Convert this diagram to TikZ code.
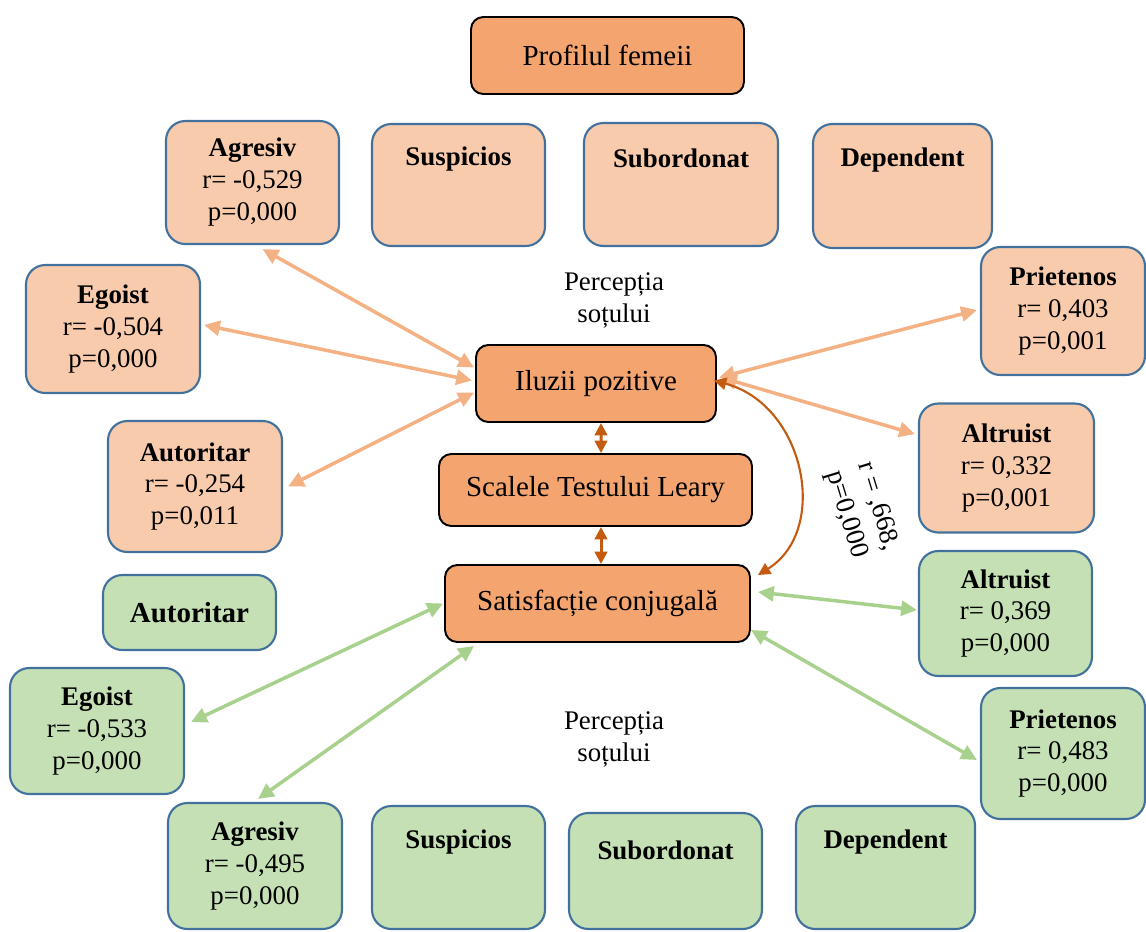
\documentclass[tikz,border=0pt]{standalone}
\usepackage{fontspec}
\setmainfont{Liberation Serif}
\usetikzlibrary{arrows.meta,calc}
\definecolor{mainor}{HTML}{F4A46F}
\definecolor{lightor}{HTML}{F8CBAD}
\definecolor{lgreen}{HTML}{C5E0B4}
\definecolor{bblue}{HTML}{41719C}
\definecolor{arrowor}{HTML}{F4B183}
\definecolor{arrowdk}{HTML}{C55A11}
\definecolor{arrowgr}{HTML}{A9D18E}
\begin{document}
\begin{tikzpicture}[x=0.02cm,y=-0.02cm,
  sz/.style 2 args={minimum width=#1*0.02cm, minimum height=#2*0.02cm},
  mbox/.style={draw=black, line width=1.1pt, fill=mainor, rounded corners=7pt, inner sep=0pt, font=\fontsize{16.5}{19}\selectfont},
  obox/.style={draw=bblue, line width=1.2pt, fill=lightor, rounded corners=11pt, inner sep=0pt, align=center, font=\fontsize{15.3}{18.2}\selectfont},
  gbox/.style={obox, fill=lgreen},
  lbl/.style={align=center, inner sep=0pt, font=\fontsize{15.3}{18.2}\selectfont},
  ttl/.style={inner sep=0pt, font=\fontsize{15.3}{18.2}\selectfont\bfseries},
  lnk/.style={line width=2pt, {Triangle[width=8.5pt,length=9pt]}-{Triangle[width=8.5pt,length=9pt]}},
  lnkor/.style={lnk, draw=arrowor},
  lnkgr/.style={lnk, draw=arrowgr},
  lnkdk/.style={line width=1.7pt, draw=arrowdk, {Triangle[width=7pt,length=7pt]}-{Triangle[width=7pt,length=7pt]}},
]
\useasboundingbox (0,0) rectangle (1146,931);
% main boxes
\node[mbox, sz={273}{77}] (prof) at (607.5,55.5) {Profilul femeii};
\node[mbox, sz={240}{77}] (iluz) at (596,383.5) {Iluzii pozitive};
\node[mbox, sz={313}{72}] (scal) at (595.5,490) {Scalele Testului Leary};
\node[mbox, sz={305}{77}] (sat) at (597.5,603.5) {Satisfacție conjugală};
% top (light orange) boxes
\node[obox, sz={173}{123}] (agrT) at (252.5,182.5) {\textbf{Agresiv}\\r= -0,529\\p=0,000};
\node[obox, sz={173}{122}] (susT) at (458.5,185) {};
\node[obox, sz={194}{123}] (subT) at (681,184.5) {};
\node[obox, sz={179}{124}] (depT) at (902.5,186) {};
\node[ttl] at ($(susT.north)+(0,36)$) {Suspicios};
\node[ttl] at ($(subT.north)+(0,36)$) {Subordonat};
\node[ttl] at ($(depT.north)+(0,37)$) {Dependent};
\node[obox, sz={174}{128}] (egoT) at (113,329) {\textbf{Egoist}\\r= -0,504\\p=0,000};
\node[obox, sz={164}{128}] (priT) at (1063,311) {\textbf{Prietenos}\\r= 0,403\\p=0,001};
\node[obox, sz={175}{129}] (altT) at (1006.5,468) {\textbf{Altruist}\\r= 0,332\\p=0,001};
\node[obox, sz={174}{131}] (autT) at (195,486.5) {\textbf{Autoritar}\\r= -0,254\\p=0,011};
% bottom (green) boxes
\node[gbox, sz={173}{75}, font=\fontsize{16.5}{19}\selectfont\bfseries] (autG) at (189.5,612.5) {Autoritar};
\node[gbox, sz={173}{125}] (altG) at (1005.5,613.5) {\textbf{Altruist}\\r= 0,369\\p=0,000};
\node[gbox, sz={174}{126}] (egoG) at (97,731) {\textbf{Egoist}\\r= -0,533\\p=0,000};
\node[gbox, sz={164}{131}] (priG) at (1063,753.5) {\textbf{Prietenos}\\r= 0,483\\p=0,000};
\node[gbox, sz={174}{126}] (agrG) at (255,866) {\textbf{Agresiv}\\r= -0,495\\p=0,000};
\node[gbox, sz={173}{123}] (susG) at (458.5,867.5) {};
\node[gbox, sz={193}{116}] (subG) at (665.5,871) {};
\node[gbox, sz={179}{123}] (depG) at (885.5,867.5) {};
\node[ttl] at ($(susG.north)+(0,37)$) {Suspicios};
\node[ttl] at ($(subG.north)+(0,38)$) {Subordonat};
\node[ttl] at ($(depG.north)+(0,37)$) {Dependent};
% free labels
\node[lbl] (percT) at (614,300) {Percepția\\soțului};
\node[lbl] (percB) at (614,739) {Percepția\\soțului};
\node[lbl, align=left, rotate=-73] (corr) at (862,511) {r = ,668,\\p=0,000};
% orange connectors
\draw[lnkor] ($(iluz.west)+(-1,-16)$) -- ($(agrT.south)+(10,4)$);
\draw[lnkor] ($(iluz.west)+(-3,-3)$) -- ($(egoT.east)+(3,-4)$);
\draw[lnkor] ($(iluz.west)+(-1,9)$) -- ($(autT.east)+(5,0)$);
\draw[lnkor] ($(iluz.east)+(2,-6)$) -- ($(priT.west)+(-3,-1)$);
\draw[lnkor] ($(iluz.east)+(4,-6)$) -- ($(altT.west)+(-3,-34)$);
% dark connectors
\draw[lnkdk] ($(iluz.south)+(5,0)$) -- ($(scal.north)+(5.5,0)$);
\draw[lnkdk] ($(scal.south)+(5.5,0)$) -- ($(sat.north)+(3.5,0)$);
\draw[lnkdk, line width=1.2pt] ($(iluz.east)+(-3,-3)$) .. controls (805,405) and (830,530) .. ($(sat.east)+(7,-28.5)$);
% green connectors
\draw[lnkgr] ($(sat.west)+(-1,0)$) -- ($(egoG.east)+(6,-9)$);
\draw[lnkgr] ($(sat.south west)+(30,3)$) -- ($(agrG.north)+(3,-3)$);
\draw[lnkgr] ($(sat.east)+(7,-11.5)$) -- ($(altG.west)+(-1,-3.5)$);
\draw[lnkgr] ($(sat.east)+(0,26.5)$) -- ($(priG.west)+(-3,6.5)$);
\end{tikzpicture}
\end{document}
